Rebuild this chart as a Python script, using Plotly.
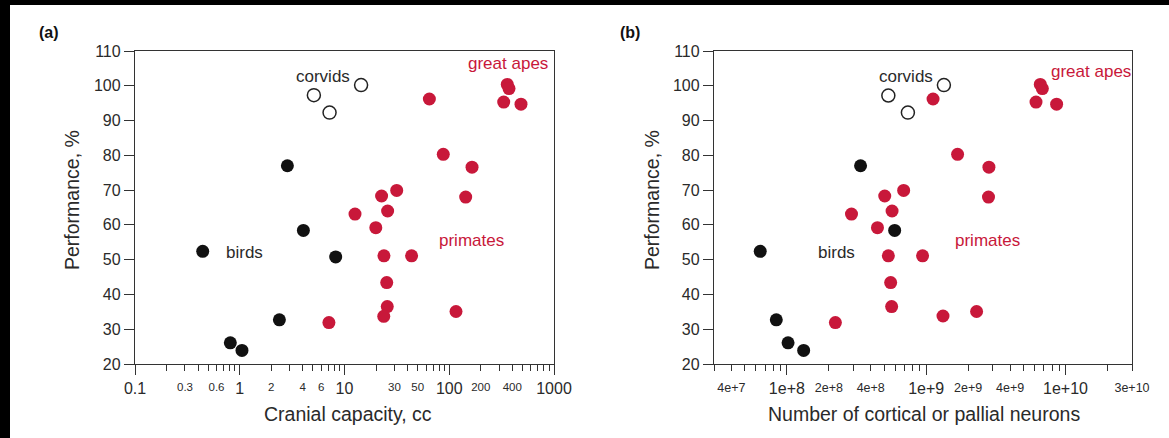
import numpy as np
import plotly.graph_objects as go

W, H = 1169, 438
RED = "#c8183a"
BLACK = "#111111"
TXT = "#2a2a2a"
FONT = "Liberation Sans, Arial, Helvetica, sans-serif"

# ---------------- Panel (a): cranial capacity (cc) ----------------
a_corvid_x = [5.1, 7.2, 14.4]
a_corvid_y = [97.3, 92.3, 100.2]
a_bird_x = [2.85, 4.05, 0.443, 8.24, 2.39, 0.813, 1.05]
a_bird_y = [77.0, 58.4, 52.4, 50.8, 32.7, 26.1, 23.9]
a_primate_x = [64.6, 358, 372, 331, 484, 87.7, 165, 143.5, 31.5, 22.6,
               25.8, 12.6, 19.9, 23.8, 43.7, 25.3, 25.6, 23.7, 116, 7.1]
a_primate_y = [96.2, 100.4, 99.2, 95.3, 94.7, 80.3, 76.6, 68.0, 69.9, 68.3,
               64.0, 63.1, 59.2, 51.1, 51.1, 43.4, 36.5, 33.7, 35.1, 31.9]

# ---------------- Panel (b): number of neurons ----------------
b_corvid_x = [5.35e8, 7.39e8, 1.34e9]
b_corvid_y = [97.2, 92.3, 100.2]
b_bird_x = [3.38e8, 5.94e8, 6.44e7, 8.4e7, 1.02e8, 1.32e8]
b_bird_y = [77.0, 58.4, 52.4, 32.7, 26.1, 23.9]
b_primate_x = [1.12e9, 6.59e9, 6.82e9, 6.14e9, 8.63e9, 1.68e9, 2.82e9, 2.80e9,
               6.89e8, 5.04e8, 5.69e8, 2.91e8, 4.47e8, 5.35e8, 9.42e8, 5.56e8,
               5.65e8, 1.32e9, 2.30e9, 2.23e8]
b_primate_y = [96.2, 100.4, 99.2, 95.3, 94.7, 80.3, 76.6, 68.0, 69.9, 68.3,
               64.0, 63.1, 59.2, 51.1, 51.1, 43.4, 36.5, 33.8, 35.1, 31.9]

# tick labels
a_major_vals = [0.1, 1, 10, 100, 1000]
a_major_text = ["0.1", "1", "10", "100", "1000"]
a_minor_labels = {0.3: "0.3", 0.6: "0.6", 2: "2", 4: "4", 6: "6",
                  30: "30", 50: "50", 200: "200", 400: "400"}
b_major_vals = [1e8, 1e9, 1e10]
b_major_text = ["1e+8", "1e+9", "1e+10"]
b_minor_labels = {4e7: "4e+7", 2e8: "2e+8", 4e8: "4e+8", 2e9: "2e+9",
                  4e9: "4e+9", 3e10: "3e+10"}
y_vals = list(range(20, 111, 10))


def minor_ticks(lo_exp, hi_exp, lo, hi, labels):
    vals, texts = [], []
    for n in range(lo_exp, hi_exp + 1):
        for k in range(2, 10):
            v = float(k * 10.0 ** n)
            if lo * 0.999 <= v <= hi * 1.001:
                vals.append(v)
                lab = ""
                for key, t in labels.items():
                    if abs(np.log10(key) - np.log10(v)) < 1e-6:
                        lab = t
                texts.append(lab)
    return vals, texts


a_mv, a_mt = minor_ticks(-1, 2, 0.1, 1000, a_minor_labels)
b_mv, b_mt = minor_ticks(7, 10, 3e7, 3e10, b_minor_labels)


def px(x):
    return x / W


def py(y):
    return (H - y) / H


fig = go.Figure()

mk_open = dict(size=13, color="white", line=dict(color="#222222", width=1.5))
mk_black = dict(size=13, color=BLACK, line=dict(width=0))
mk_red = dict(size=13, color=RED, line=dict(width=0))

fig.add_trace(go.Scatter(x=a_bird_x, y=a_bird_y, mode="markers", marker=mk_black,
                         xaxis="x", yaxis="y", name="birds"))
fig.add_trace(go.Scatter(x=a_primate_x, y=a_primate_y, mode="markers", marker=mk_red,
                         xaxis="x", yaxis="y", name="primates"))
fig.add_trace(go.Scatter(x=a_corvid_x, y=a_corvid_y, mode="markers", marker=mk_open,
                         xaxis="x", yaxis="y", name="corvids"))
fig.add_trace(go.Scatter(x=b_bird_x, y=b_bird_y, mode="markers", marker=mk_black,
                         xaxis="x2", yaxis="y2", name="birds"))
fig.add_trace(go.Scatter(x=b_primate_x, y=b_primate_y, mode="markers", marker=mk_red,
                         xaxis="x2", yaxis="y2", name="primates"))
fig.add_trace(go.Scatter(x=b_corvid_x, y=b_corvid_y, mode="markers", marker=mk_open,
                         xaxis="x2", yaxis="y2", name="corvids"))

AX = "#333333"
a_dom = [px(135), px(554)]
b_dom = [px(714), px(1132)]
y_dom = [py(364), py(51)]
b_range = [float(np.log10(3e7)), float(np.log10(3e10))]

common_x = dict(type="log", showgrid=False, zeroline=False, showline=True,
                linecolor=AX, linewidth=1.3, mirror=True, ticks="outside",
                ticklen=10, tickwidth=1.3, tickcolor=AX, automargin=False,
                tickfont=dict(family=FONT, size=16, color=TXT),
                tickmode="array")
common_y = dict(range=[20, 110], showgrid=False, zeroline=False, showline=True,
                linecolor=AX, linewidth=1.3, mirror=True, ticks="outside",
                ticklen=10, tickwidth=1.3, tickcolor=AX, automargin=False,
                tickmode="array", tickvals=y_vals,
                tickfont=dict(family=FONT, size=16, color=TXT))
overlay_x = dict(type="log", showgrid=False, zeroline=False, showline=False,
                 ticks="outside", ticklen=6, tickwidth=1.3, tickcolor=AX,
                 automargin=False, tickmode="array",
                 tickfont=dict(family=FONT, size=11.5, color=TXT),
                 ticklabelstandoff=6)

fig.update_layout(
    width=W, height=H, template="none",
    margin=dict(l=0, r=0, t=0, b=0),
    paper_bgcolor="white", plot_bgcolor="white",
    showlegend=False,
    xaxis=dict(common_x, domain=a_dom, range=[-1, 3], anchor="y",
               tickvals=a_major_vals, ticktext=a_major_text),
    xaxis3=dict(overlay_x, domain=a_dom, range=[-1, 3], anchor="y", overlaying="x",
                tickvals=a_mv, ticktext=a_mt),
    yaxis=dict(common_y, domain=y_dom, anchor="x"),
    xaxis2=dict(common_x, domain=b_dom, range=b_range, anchor="y2",
                tickvals=b_major_vals, ticktext=b_major_text),
    xaxis4=dict(overlay_x, domain=b_dom, range=b_range, anchor="y2",
                overlaying="x2", tickvals=b_mv, ticktext=b_mt,
                tickfont=dict(family=FONT, size=12.5, color=TXT)),
    yaxis2=dict(common_y, domain=y_dom, anchor="x2"),
)

# invisible traces so the overlay tick axes are drawn
fig.add_trace(go.Scatter(x=[1], y=[None], xaxis="x3", yaxis="y", mode="markers",
                         hoverinfo="skip", showlegend=False))
fig.add_trace(go.Scatter(x=[1e9], y=[None], xaxis="x4", yaxis="y2", mode="markers",
                         hoverinfo="skip", showlegend=False))

ann = []


def label(text, x, y, xref, yref, color, size=17, bold=False, angle=0):
    ann.append(dict(text=("<b>%s</b>" % text) if bold else text, x=x, y=y,
                    xref=xref, yref=yref, showarrow=False, textangle=angle,
                    xanchor="center", yanchor="middle",
                    font=dict(family=FONT, size=size, color=color)))


# group labels (data coordinates; log axes use log10 units)
label("corvids", 0.795, 102.6, "x", "y", TXT)
label("great apes", 2.561, 106.3, "x", "y", RED)
label("birds", 0.05, 52.1, "x", "y", TXT)
label("primates", 2.217, 55.5, "x", "y", RED)
label("corvids", 8.855, 102.6, "x2", "y2", TXT)
label("great apes", 10.186, 104.0, "x2", "y2", RED)
label("birds", 8.357, 52.1, "x2", "y2", TXT)
label("primates", 9.443, 55.5, "x2", "y2", RED)

# axis titles
label("Cranial capacity, cc", px(348), py(414), "paper", "paper", TXT, size=19.5)
label("Number of cortical or pallial neurons", px(924), py(414), "paper", "paper", TXT, size=19.5)
label("Performance, %", px(72), py(200), "paper", "paper", TXT, size=19.5, angle=-90)
label("Performance, %", px(652), py(200), "paper", "paper", TXT, size=19.5, angle=-90)

# panel letters
label("(a)", px(49), py(33), "paper", "paper", "#111111", size=16, bold=True)
label("(b)", px(630), py(33), "paper", "paper", "#111111", size=16, bold=True)

fig.update_layout(annotations=ann)

# black frame strips at the top and left edges of the picture
fig.add_shape(type="rect", xref="paper", yref="paper", x0=0, x1=px(10), y0=0, y1=1,
              fillcolor="black", line=dict(width=0), layer="above")
fig.add_shape(type="rect", xref="paper", yref="paper", x0=0, x1=1, y0=py(5), y1=1,
              fillcolor="black", line=dict(width=0), layer="above")

fig.write_html("out.html")
